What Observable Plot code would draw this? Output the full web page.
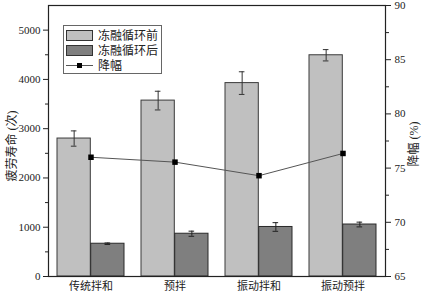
<!DOCTYPE html>
<html>
<head>
<meta charset="utf-8">
<script src="https://cdn.jsdelivr.net/npm/d3@7"></script>
<script src="https://cdn.jsdelivr.net/npm/@observablehq/plot@0.6"></script>
<style>
  html, body { margin: 0; padding: 0; background: #fff; }
  #wrap { position: relative; width: 425px; height: 293px; font-family: "Liberation Serif", "Noto Sans CJK SC", serif; }
  #wrap svg text { font-family: "Liberation Serif", "Noto Sans CJK SC", serif; }
  #legend { position: absolute; left: 63px; top: 25px; width: 97px; height: 47px; border: 1px solid #666; background: #fff; font-size: 12px; color: #222; }
  .row { position: absolute; left: 2px; height: 14px; display: flex; align-items: center; }
  .sw { width: 27px; height: 11px; border: 1px solid #333; margin-right: 5px; box-sizing: border-box; }
  .ln { position: relative; width: 27px; height: 11px; margin-right: 5px; }
  .ln::before { content: ""; position: absolute; left: 0; right: 0; top: 5px; border-top: 1px solid #555; }
  .ln::after { content: ""; position: absolute; left: 11px; top: 3px; width: 5px; height: 5px; background: #000; }
  .atitle { position: absolute; font-size: 12px; color: #222; white-space: nowrap; transform: translate(-50%, -50%) rotate(-90deg); line-height: 1; }
</style>
</head>
<body>
<div id="wrap"></div>
<script>
const categories = ["传统拌和", "预拌", "振动拌和", "振动预拌"];
const before = [2800, 3570, 3925, 4490];
const beforeErr = [155, 190, 230, 115];
const after = [665, 868, 1005, 1055];
const afterErr = [15, 52, 88, 48];
const drop = [76.0, 75.55, 74.3, 76.35];
const seriesNames = ["冻融循环前", "冻融循环后", "降幅"];
const leftTitle = "疲劳寿命 (次)";
const rightTitle = "降幅 (%)";
const leftTicks = [0, 1000, 2000, 3000, 4000, 5000];
const leftMinor = [500, 1500, 2500, 3500, 4500];
const rightTicks = [65, 70, 75, 80, 85, 90];
const rightMinor = [67.5, 72.5, 77.5, 82.5, 87.5];

const W = 425, H = 293, ML = 48, MR = 40, MT = 5, MB = 17;
const yMax = 5500, pMin = 65, pMax = 90;
const toY = p => (p - pMin) / (pMax - pMin) * yMax;
const fromY = v => Math.round(v / yMax * (pMax - pMin) + pMin);

const rows = categories.map((c, i) => ({c, before: before[i], be: beforeErr[i], after: after[i], ae: afterErr[i], drop: drop[i]}));

const pi = 0.2, po = 0.1;
const step = (W - ML - MR) / (categories.length - pi + 2 * po);
const half = step * (1 - pi) / 2;
const q = half / 2;
const cap = 3;

const font = '"Liberation Serif", "Noto Sans CJK SC", serif';

const chart = Plot.plot({
  width: W, height: H,
  marginLeft: ML, marginRight: MR, marginTop: MT, marginBottom: MB,
  style: {fontFamily: font, fontSize: "11px", background: "white", color: "#222"},
  x: {type: "band", domain: categories, paddingInner: pi, paddingOuter: po},
  y: {domain: [0, yMax]},
  marks: [
    Plot.barY(rows, {x: "c", y: "before", insetRight: half, fill: "#c0c0c0", stroke: "#3a3a3a", strokeWidth: 1}),
    Plot.barY(rows, {x: "c", y: "after", insetLeft: half, fill: "#7f7f7f", stroke: "#2a2a2a", strokeWidth: 1}),
    Plot.ruleX(rows, {x: "c", y1: d => d.before - d.be, y2: d => d.before + d.be, dx: -q, stroke: "#333"}),
    Plot.tickY(rows, {x: "c", y: d => d.before + d.be, dx: -q, insetLeft: half - cap, insetRight: half - cap, stroke: "#333"}),
    Plot.tickY(rows, {x: "c", y: d => d.before - d.be, dx: -q, insetLeft: half - cap, insetRight: half - cap, stroke: "#333"}),
    Plot.ruleX(rows, {x: "c", y1: d => d.after - d.ae, y2: d => d.after + d.ae, dx: q, stroke: "#222"}),
    Plot.tickY(rows, {x: "c", y: d => d.after + d.ae, dx: q, insetLeft: half - cap, insetRight: half - cap, stroke: "#222"}),
    Plot.tickY(rows, {x: "c", y: d => d.after - d.ae, dx: q, insetLeft: half - cap, insetRight: half - cap, stroke: "#222"}),
    Plot.line(rows, {x: "c", y: d => toY(d.drop), stroke: "#555", strokeWidth: 1}),
    Plot.dot(rows, {x: "c", y: d => toY(d.drop), symbol: "square", r: 3.1, fill: "#000"}),
    Plot.frame({stroke: "#222", strokeWidth: 1.2}),
    Plot.axisY({ticks: leftTicks, tickFormat: d3.format("d"), tickSize: 5, tickPadding: 3, label: null, fontSize: 11, fontFamily: font}),
    Plot.axisY({ticks: leftMinor, tickSize: 3, tickFormat: () => "", label: null}),
    Plot.axisY({anchor: "right", ticks: rightTicks.map(toY), tickFormat: fromY, tickSize: 5, tickPadding: 4, label: null, fontSize: 11, fontFamily: font}),
    Plot.axisY({anchor: "right", ticks: rightMinor.map(toY), tickSize: 3, tickFormat: () => "", label: null}),
    Plot.axisX({tickSize: 0, tickPadding: 6, label: null, fontSize: 11, fontFamily: font})
  ]
});

const wrap = document.getElementById("wrap");
wrap.appendChild(chart);

function addTitle(text, x, y) {
  const d = document.createElement("div");
  d.className = "atitle";
  d.textContent = text;
  d.style.left = x + "px";
  d.style.top = y + "px";
  wrap.appendChild(d);
}
addTitle(leftTitle, 12, 146);
addTitle(rightTitle, 414, 144);

const legend = document.createElement("div");
legend.id = "legend";
const fills = ["#c0c0c0", "#7f7f7f"];
seriesNames.forEach((name, i) => {
  const row = document.createElement("div");
  row.className = "row";
  row.style.top = (2 + i * 15) + "px";
  const sw = document.createElement("div");
  if (i < 2) { sw.className = "sw"; sw.style.background = fills[i]; }
  else { sw.className = "ln"; }
  row.appendChild(sw);
  const t = document.createElement("span");
  t.textContent = name;
  row.appendChild(t);
  legend.appendChild(row);
});
wrap.appendChild(legend);
</script>
</body>
</html>
